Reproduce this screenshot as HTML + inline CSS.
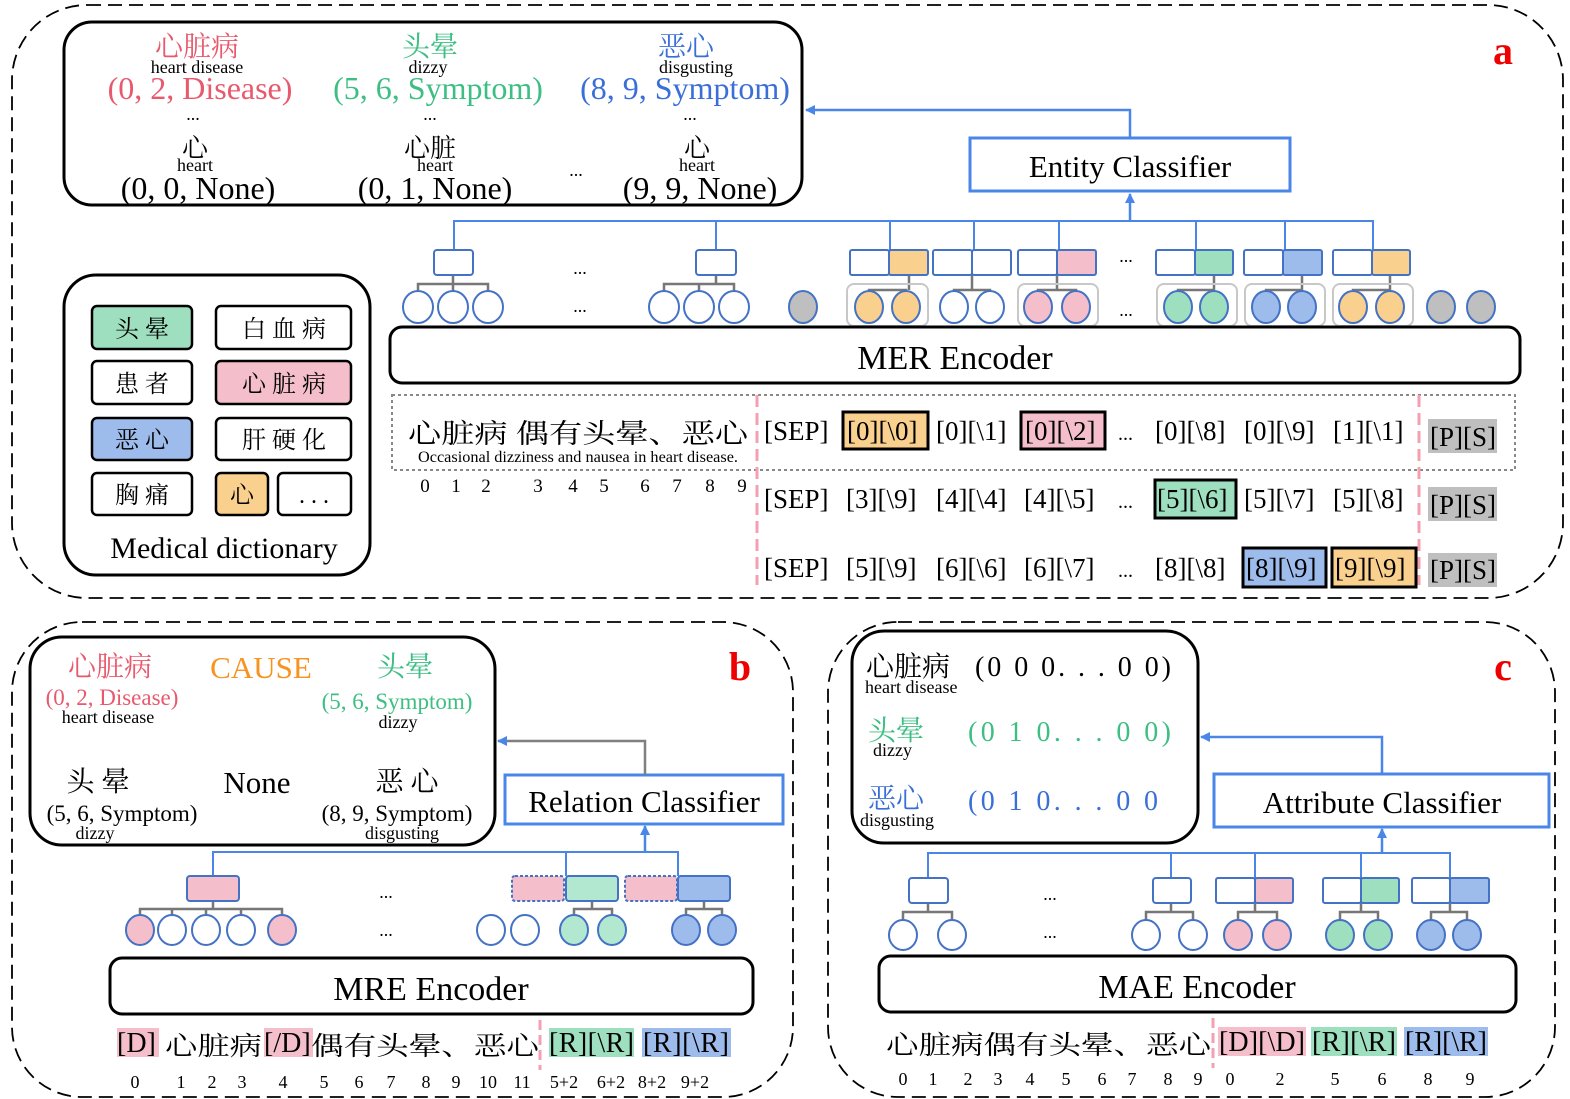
<!DOCTYPE html>
<html><head><meta charset="utf-8"><style>
html,body{margin:0;padding:0;background:#fff}
svg{display:block}
text{font-family:"Liberation Serif","Noto Serif CJK SC",serif}
</style></head><body>
<svg width="1570" height="1099" viewBox="0 0 1570 1099" xmlns="http://www.w3.org/2000/svg">
<defs>
<marker id="ab" markerWidth="10" markerHeight="10" refX="9" refY="5" orient="auto" markerUnits="userSpaceOnUse"><path d="M0,0 L10,5 L0,10 z" fill="#4a86e8"/></marker>
<marker id="ag" markerWidth="10" markerHeight="10" refX="9" refY="5" orient="auto" markerUnits="userSpaceOnUse"><path d="M0,0 L10,5 L0,10 z" fill="#4a86e8"/></marker>
</defs>
<g fill="none" stroke="#000" stroke-width="1.8" stroke-dasharray="14,7">
<rect x="12" y="5" width="1551" height="593" rx="75"/>
<rect x="12" y="622" width="781" height="475" rx="70"/>
<rect x="828" y="622" width="727" height="475" rx="70"/>
</g>
<!-- ===== A ===== -->
<rect x="64" y="22" width="738" height="183" rx="28" fill="none" stroke="#000" stroke-width="3"/>
<g text-anchor="middle">
<text x="197" y="56" font-size="28" fill="#e8596e">心脏病</text>
<text x="197" y="73" font-size="18">heart disease</text>
<text x="200" y="99" font-size="32" fill="#e8596e">(0, 2, Disease)</text>
<text x="430" y="56" font-size="28" fill="#3dbe83">头晕</text>
<text x="428" y="73" font-size="18">dizzy</text>
<text x="438" y="99" font-size="32" fill="#3dbe83">(5, 6, Symptom)</text>
<text x="686" y="56" font-size="28" fill="#3a6fd8">恶心</text>
<text x="696" y="73" font-size="18">disgusting</text>
<text x="685" y="99" font-size="32" fill="#3a6fd8">(8, 9, Symptom)</text>
<text x="193" y="120" font-size="18">...</text>
<text x="430" y="120" font-size="18">...</text>
<text x="690" y="120" font-size="18">...</text>
<text x="195" y="157" font-size="26">心</text>
<text x="195" y="171" font-size="18">heart</text>
<text x="198" y="199" font-size="32">(0, 0, None)</text>
<text x="430" y="157" font-size="26">心脏</text>
<text x="435" y="171" font-size="18">heart</text>
<text x="435" y="199" font-size="32">(0, 1, None)</text>
<text x="576" y="176" font-size="18">...</text>
<text x="697" y="157" font-size="26">心</text>
<text x="697" y="171" font-size="18">heart</text>
<text x="700" y="199" font-size="32">(9, 9, None)</text>
</g>
<text x="1503" y="64" font-size="40" font-weight="bold" fill="#e00" text-anchor="middle">a</text>
<rect x="970" y="138" width="320" height="53" fill="#fff" stroke="#4a86e8" stroke-width="3"/>
<text x="1130" y="177" font-size="31" text-anchor="middle">Entity Classifier</text>
<path d="M1130,138 V110 H806" fill="none" stroke="#4a86e8" stroke-width="2.5" marker-end="url(#ab)"/>
<path d="M1130,221 V194" fill="none" stroke="#4a86e8" stroke-width="2.5" marker-end="url(#ab)"/>
<path d="M454,250 V221 H1373 V250 M716,221 V250 M890,221 V250 M974,221 V250 M1059,221 V250 M1196,221 V250 M1285,221 V250" fill="none" stroke="#4a86e8" stroke-width="2"/>
<g fill="none" stroke="#777" stroke-width="2.5">
<path d="M453,275 V284 M418,292 V284 H488 V292 M453,284 V292"/>
<path d="M716,275 V284 M664,292 V284 H734 V292 M699,284 V292"/>
<path d="M909,275 V290 M869,293 V290 H906 V293"/>
<path d="M972,275 V290 M954,293 V290 H990 V293"/>
<path d="M1057,275 V290 M1038,293 V290 H1076 V293"/>
<path d="M1214,275 V290 M1178,293 V290 H1214 V293"/>
<path d="M1302,275 V290 M1266,293 V290 H1302 V293"/>
<path d="M1390,275 V290 M1353,293 V290 H1390 V293"/>
</g>
<g stroke="#c8c8c8" stroke-width="2" fill="none">
<rect x="847" y="284" width="81" height="42" rx="7"/>
<rect x="1018" y="284" width="80" height="42" rx="7"/>
<rect x="1157" y="284" width="80" height="42" rx="7"/>
<rect x="1245" y="284" width="80" height="42" rx="7"/>
<rect x="1333" y="284" width="80" height="42" rx="7"/>
</g>
<g stroke="#4472c4" stroke-width="2">
<rect x="434" y="250" width="39" height="25" rx="3" fill="#fff"/>
<rect x="696" y="250" width="40" height="25" rx="3" fill="#fff"/>
<rect x="850" y="250" width="39" height="25" rx="2" fill="#fff"/><rect x="889" y="250" width="39" height="25" rx="2" fill="#fad08f"/>
<rect x="933" y="250" width="39" height="25" rx="2" fill="#fff"/><rect x="972" y="250" width="39" height="25" rx="2" fill="#fff"/>
<rect x="1018" y="250" width="39" height="25" rx="2" fill="#fff"/><rect x="1057" y="250" width="39" height="25" rx="2" fill="#f4bfcb"/>
<rect x="1156" y="250" width="39" height="25" rx="2" fill="#fff"/><rect x="1195" y="250" width="38" height="25" rx="2" fill="#9edfc0"/>
<rect x="1244" y="250" width="39" height="25" rx="2" fill="#fff"/><rect x="1283" y="250" width="39" height="25" rx="2" fill="#9dbcec"/>
<rect x="1333" y="250" width="39" height="25" rx="2" fill="#fff"/><rect x="1372" y="250" width="38" height="25" rx="2" fill="#fad08f"/>
<ellipse cx="418" cy="307" rx="15" ry="16" fill="#fff"/><ellipse cx="453" cy="307" rx="15" ry="16" fill="#fff"/><ellipse cx="488" cy="307" rx="15" ry="16" fill="#fff"/>
<ellipse cx="664" cy="307" rx="15" ry="16" fill="#fff"/><ellipse cx="699" cy="307" rx="15" ry="16" fill="#fff"/><ellipse cx="734" cy="307" rx="15" ry="16" fill="#fff"/>
<ellipse cx="803" cy="307" rx="14" ry="16" fill="#bfbfbf"/>
<ellipse cx="869" cy="307" rx="14" ry="16" fill="#fad08f"/><ellipse cx="906" cy="307" rx="14" ry="16" fill="#fad08f"/>
<ellipse cx="954" cy="307" rx="14" ry="16" fill="#fff"/><ellipse cx="990" cy="307" rx="14" ry="16" fill="#fff"/>
<ellipse cx="1038" cy="307" rx="14" ry="16" fill="#f4bfcb"/><ellipse cx="1076" cy="307" rx="14" ry="16" fill="#f4bfcb"/>
<ellipse cx="1178" cy="307" rx="14" ry="16" fill="#9edfc0"/><ellipse cx="1214" cy="307" rx="14" ry="16" fill="#9edfc0"/>
<ellipse cx="1266" cy="307" rx="14" ry="16" fill="#9dbcec"/><ellipse cx="1302" cy="307" rx="14" ry="16" fill="#9dbcec"/>
<ellipse cx="1353" cy="307" rx="14" ry="16" fill="#fad08f"/><ellipse cx="1390" cy="307" rx="14" ry="16" fill="#fad08f"/>
<ellipse cx="1441" cy="307" rx="14" ry="16" fill="#bfbfbf"/><ellipse cx="1481" cy="307" rx="14" ry="16" fill="#bfbfbf"/>
</g>
<g font-size="18" text-anchor="middle"><text x="580" y="274">...</text><text x="580" y="312">...</text><text x="1126" y="262">...</text><text x="1126" y="316">...</text></g>
<rect x="390" y="327" width="1130" height="56" rx="12" fill="#fff" stroke="#000" stroke-width="3"/>
<text x="955" y="369" font-size="34" text-anchor="middle">MER Encoder</text>
<rect x="392" y="395" width="1123" height="75" fill="none" stroke="#888" stroke-width="2" stroke-dasharray="3,3"/>
<text x="408" y="443" font-size="27" textLength="340" lengthAdjust="spacingAndGlyphs">心脏病 偶有头晕、恶心</text>
<text x="418" y="462" font-size="15.5" textLength="320" lengthAdjust="spacingAndGlyphs">Occasional dizziness and nausea in heart disease.</text>
<g font-size="19" text-anchor="middle"><text x="425" y="492">0</text><text x="456" y="492">1</text><text x="486" y="492">2</text><text x="538" y="492">3</text><text x="573" y="492">4</text><text x="604" y="492">5</text><text x="645" y="492">6</text><text x="677" y="492">7</text><text x="710" y="492">8</text><text x="742" y="492">9</text></g>
<path d="M757,395 V585 M1419,395 V585" stroke="#f4a0b0" stroke-width="3" stroke-dasharray="12,6"/>
<rect x="843" y="412" width="85" height="37" fill="#fad08f" stroke="#000" stroke-width="3"/>
<rect x="1021" y="412" width="84" height="37" fill="#f4bfcb" stroke="#000" stroke-width="3"/>
<rect x="1155" y="480" width="81" height="38" fill="#9edfc0" stroke="#000" stroke-width="3"/>
<rect x="1243" y="548" width="83" height="39" fill="#9dbcec" stroke="#000" stroke-width="3"/>
<rect x="1332" y="548" width="84" height="39" fill="#fad08f" stroke="#000" stroke-width="3"/>
<rect x="1428" y="419" width="69" height="34" fill="#bfbfbf"/>
<rect x="1428" y="487" width="69" height="34" fill="#bfbfbf"/>
<rect x="1428" y="553" width="69" height="34" fill="#bfbfbf"/>
<g font-size="27">
<text x="764" y="440">[SEP]</text><text x="847" y="440">[0][\0]</text><text x="936" y="440">[0][\1]</text><text x="1025" y="440">[0][\2]</text><text x="1118" y="440" font-size="20">...</text><text x="1155" y="440">[0][\8]</text><text x="1244" y="440">[0][\9]</text><text x="1333" y="440">[1][\1]</text><text x="1430" y="446">[P][S]</text>
<text x="764" y="508">[SEP]</text><text x="846" y="508">[3][\9]</text><text x="936" y="508">[4][\4]</text><text x="1024" y="508">[4][\5]</text><text x="1118" y="508" font-size="20">...</text><text x="1157" y="508">[5][\6]</text><text x="1244" y="508">[5][\7]</text><text x="1333" y="508">[5][\8]</text><text x="1430" y="514">[P][S]</text>
<text x="764" y="577">[SEP]</text><text x="846" y="577">[5][\9]</text><text x="936" y="577">[6][\6]</text><text x="1024" y="577">[6][\7]</text><text x="1118" y="577" font-size="20">...</text><text x="1155" y="577">[8][\8]</text><text x="1246" y="577">[8][\9]</text><text x="1335" y="577">[9][\9]</text><text x="1430" y="579">[P][S]</text>
</g>
<rect x="64" y="275" width="306" height="300" rx="32" fill="none" stroke="#000" stroke-width="3"/>
<g stroke="#000" stroke-width="2.5">
<rect x="92" y="306" width="100" height="43" rx="5" fill="#9edfc0"/><rect x="216" y="306" width="135" height="43" rx="5" fill="#fff"/>
<rect x="92" y="361" width="100" height="43" rx="5" fill="#fff"/><rect x="216" y="361" width="135" height="43" rx="5" fill="#f4bfcb"/>
<rect x="92" y="418" width="100" height="42" rx="5" fill="#9dbcec"/><rect x="216" y="418" width="135" height="42" rx="5" fill="#fff"/>
<rect x="92" y="473" width="100" height="42" rx="5" fill="#fff"/><rect x="216" y="473" width="52" height="42" rx="5" fill="#fad08f"/><rect x="278" y="473" width="73" height="42" rx="5" fill="#fff"/>
</g>
<g font-size="24" text-anchor="middle">
<text x="142" y="337">头 晕</text><text x="284" y="337">白 血 病</text>
<text x="142" y="392">患 者</text><text x="284" y="392">心 脏 病</text>
<text x="142" y="448">恶 心</text><text x="284" y="448">肝 硬 化</text>
<text x="142" y="503">胸 痛</text><text x="242" y="503">心</text><text x="314" y="503">. . .</text>
</g>
<text x="224" y="558" font-size="30" text-anchor="middle">Medical dictionary</text>
<!-- ===== B ===== -->
<rect x="30" y="637" width="465" height="208" rx="32" fill="none" stroke="#000" stroke-width="3"/>
<g text-anchor="middle">
<text x="110" y="676" font-size="28" fill="#e8596e">心脏病</text>
<text x="112" y="705" font-size="23" fill="#e8596e">(0, 2, Disease)</text>
<text x="108" y="723" font-size="18">heart disease</text>
<text x="261" y="678" font-size="31" fill="#f7931e">CAUSE</text>
<text x="405" y="676" font-size="28" fill="#3dbe83">头晕</text>
<text x="397" y="709" font-size="23" fill="#3dbe83">(5, 6, Symptom)</text>
<text x="398" y="728" font-size="18">dizzy</text>
<text x="98" y="791" font-size="28">头 晕</text>
<text x="122" y="821" font-size="23">(5, 6, Symptom)</text>
<text x="95" y="839" font-size="18">dizzy</text>
<text x="257" y="793" font-size="31">None</text>
<text x="407" y="791" font-size="28">恶 心</text>
<text x="397" y="821" font-size="23">(8, 9, Symptom)</text>
<text x="402" y="839" font-size="18">disgusting</text>
</g>
<text x="740" y="680" font-size="40" font-weight="bold" fill="#e00" text-anchor="middle">b</text>
<rect x="505" y="775" width="278" height="49" fill="#fff" stroke="#4a86e8" stroke-width="3"/>
<text x="644" y="812" font-size="31" text-anchor="middle">Relation Classifier</text>
<path d="M645,775 V741 H498" fill="none" stroke="#7f7f7f" stroke-width="2.5" marker-end="url(#ag)"/>
<path d="M213,876 V852 H678 V876 M566,852 V876" fill="none" stroke="#4a86e8" stroke-width="2"/>
<path d="M645,852 V826" fill="none" stroke="#4a86e8" stroke-width="2.5" marker-end="url(#ab)"/>
<g fill="none" stroke="#777" stroke-width="2.5">
<path d="M213,901 V909 M140,916 V909 H282 V916 M172,909 V916 M206,909 V916 M241,909 V916"/>
<path d="M592,901 V909 M574,916 V909 H612 V916"/>
<path d="M704,901 V909 M686,916 V909 H722 V916"/>
</g>
<g stroke="#4472c4" stroke-width="2">
<rect x="187" y="876" width="52" height="25" rx="3" fill="#f4bfcb"/>
<rect x="512" y="876" width="52" height="25" rx="3" fill="#f4bfcb" stroke-dasharray="3,2"/>
<rect x="566" y="876" width="52" height="25" rx="3" fill="#b3e8d0"/>
<rect x="625" y="876" width="52" height="25" rx="3" fill="#f4bfcb" stroke-dasharray="3,2"/>
<rect x="678" y="876" width="52" height="25" rx="3" fill="#9dbcec"/>
<ellipse cx="140" cy="930" rx="14" ry="15" fill="#f4bfcb"/><ellipse cx="172" cy="930" rx="14" ry="15" fill="#fff"/><ellipse cx="206" cy="930" rx="14" ry="15" fill="#fff"/><ellipse cx="241" cy="930" rx="14" ry="15" fill="#fff"/><ellipse cx="282" cy="930" rx="14" ry="15" fill="#f4bfcb"/>
<ellipse cx="491" cy="930" rx="14" ry="15" fill="#fff"/><ellipse cx="525" cy="930" rx="14" ry="15" fill="#fff"/>
<ellipse cx="574" cy="930" rx="14" ry="15" fill="#b3e8d0"/><ellipse cx="612" cy="930" rx="14" ry="15" fill="#b3e8d0"/>
<ellipse cx="686" cy="930" rx="14" ry="15" fill="#9dbcec"/><ellipse cx="722" cy="930" rx="14" ry="15" fill="#9dbcec"/>
</g>
<g font-size="18" text-anchor="middle"><text x="386" y="898">...</text><text x="386" y="936">...</text></g>
<rect x="110" y="958" width="643" height="56" rx="12" fill="#fff" stroke="#000" stroke-width="3"/>
<text x="431" y="1000" font-size="34" text-anchor="middle">MRE Encoder</text>
<rect x="117" y="1028" width="42" height="29" fill="#f4bfcb"/>
<rect x="264" y="1028" width="49" height="29" fill="#f4bfcb"/>
<rect x="549" y="1028" width="85" height="29" fill="#9edfc0"/>
<rect x="642" y="1028" width="89" height="29" fill="#9dbcec"/>
<path d="M540,1020 V1070" stroke="#f4a0b0" stroke-width="3" stroke-dasharray="10,5"/>
<g font-size="28">
<text x="117" y="1052">[D]</text><text x="165" y="1055" font-size="26" textLength="97" lengthAdjust="spacingAndGlyphs">心脏病</text><text x="264" y="1052">[/D]</text><text x="311" y="1055" font-size="26" textLength="228" lengthAdjust="spacingAndGlyphs">偶有头晕、恶心</text>
<text x="549" y="1052" textLength="85">[R][\R]</text><text x="643" y="1052" textLength="86">[R][\R]</text>
</g>
<g font-size="18" text-anchor="middle"><text x="135" y="1088">0</text><text x="181" y="1088">1</text><text x="212" y="1088">2</text><text x="242" y="1088">3</text><text x="283" y="1088">4</text><text x="324" y="1088">5</text><text x="359" y="1088">6</text><text x="391" y="1088">7</text><text x="426" y="1088">8</text><text x="456" y="1088">9</text><text x="488" y="1088">10</text><text x="522" y="1088">11</text><text x="564" y="1088">5+2</text><text x="611" y="1088">6+2</text><text x="652" y="1088">8+2</text><text x="695" y="1088">9+2</text></g>
<!-- ===== C ===== -->
<rect x="852" y="631" width="346" height="212" rx="32" fill="none" stroke="#000" stroke-width="3"/>
<text x="866" y="676" font-size="28">心脏病</text>
<text x="975" y="676" font-size="28" textLength="196" lengthAdjust="spacing">(0  0  0. . . 0  0)</text>
<text x="865" y="693" font-size="18">heart disease</text>
<text x="868" y="740" font-size="28" fill="#3dbe83">头晕</text>
<text x="968" y="741" font-size="28" fill="#3dbe83" textLength="203" lengthAdjust="spacing">(0  1  0. . . 0  0)</text>
<text x="873" y="756" font-size="18">dizzy</text>
<text x="868" y="808" font-size="28" fill="#3a6fd8">恶心</text>
<text x="968" y="810" font-size="28" fill="#3a6fd8" textLength="190" lengthAdjust="spacing">(0  1  0. . . 0  0</text>
<text x="860" y="826" font-size="18">disgusting</text>
<text x="1503" y="680" font-size="40" font-weight="bold" fill="#e00" text-anchor="middle">c</text>
<rect x="1214" y="774" width="335" height="53" fill="#fff" stroke="#4a86e8" stroke-width="3"/>
<text x="1382" y="813" font-size="31" text-anchor="middle">Attribute Classifier</text>
<path d="M1382,774 V737 H1201" fill="none" stroke="#4a86e8" stroke-width="2.5" marker-end="url(#ab)"/>
<path d="M928,878 V853 H1450 V878 M1171,853 V878 M1255,853 V878 M1361,853 V878" fill="none" stroke="#4a86e8" stroke-width="2"/>
<path d="M1382,853 V829" fill="none" stroke="#4a86e8" stroke-width="2.5" marker-end="url(#ab)"/>
<g fill="none" stroke="#777" stroke-width="2.5">
<path d="M928,903 V912 M903,920 V912 H952 V920"/>
<path d="M1171,903 V912 M1146,920 V912 H1193 V920"/>
<path d="M1255,903 V912 M1238,920 V912 H1277 V920"/>
<path d="M1361,903 V912 M1340,920 V912 H1378 V920"/>
<path d="M1450,903 V912 M1431,920 V912 H1467 V920"/>
</g>
<g stroke="#4472c4" stroke-width="2">
<rect x="909" y="878" width="39" height="25" rx="3" fill="#fff"/>
<rect x="1153" y="878" width="38" height="25" rx="3" fill="#fff"/>
<rect x="1216" y="878" width="39" height="25" rx="2" fill="#fff"/><rect x="1255" y="878" width="38" height="25" rx="2" fill="#f4bfcb"/>
<rect x="1323" y="878" width="38" height="25" rx="2" fill="#fff"/><rect x="1361" y="878" width="38" height="25" rx="2" fill="#9edfc0"/>
<rect x="1412" y="878" width="38" height="25" rx="2" fill="#fff"/><rect x="1450" y="878" width="39" height="25" rx="2" fill="#9dbcec"/>
<ellipse cx="903" cy="935" rx="14" ry="15" fill="#fff"/><ellipse cx="952" cy="935" rx="14" ry="15" fill="#fff"/>
<ellipse cx="1146" cy="935" rx="14" ry="15" fill="#fff"/><ellipse cx="1193" cy="935" rx="14" ry="15" fill="#fff"/>
<ellipse cx="1238" cy="935" rx="14" ry="15" fill="#f4bfcb"/><ellipse cx="1277" cy="935" rx="14" ry="15" fill="#f4bfcb"/>
<ellipse cx="1340" cy="935" rx="14" ry="15" fill="#9edfc0"/><ellipse cx="1378" cy="935" rx="14" ry="15" fill="#9edfc0"/>
<ellipse cx="1431" cy="935" rx="14" ry="15" fill="#9dbcec"/><ellipse cx="1467" cy="935" rx="14" ry="15" fill="#9dbcec"/>
</g>
<g font-size="18" text-anchor="middle"><text x="1050" y="900">...</text><text x="1050" y="938">...</text></g>
<rect x="879" y="956" width="637" height="56" rx="12" fill="#fff" stroke="#000" stroke-width="3"/>
<text x="1197" y="998" font-size="34" text-anchor="middle">MAE Encoder</text>
<rect x="1218" y="1027" width="88" height="29" fill="#f4bfcb"/>
<rect x="1311" y="1027" width="86" height="29" fill="#9edfc0"/>
<rect x="1404" y="1027" width="84" height="29" fill="#9dbcec"/>
<path d="M1213,1018 V1068" stroke="#f4a0b0" stroke-width="3" stroke-dasharray="10,5"/>
<text x="886" y="1054" font-size="26" textLength="325" lengthAdjust="spacingAndGlyphs">心脏病偶有头晕、恶心</text>
<g font-size="28"><text x="1219" y="1051" textLength="86">[D][\D]</text><text x="1312" y="1051" textLength="84">[R][\R]</text><text x="1405" y="1051" textLength="82">[R][\R]</text></g>
<g font-size="18" text-anchor="middle"><text x="903" y="1085">0</text><text x="933" y="1085">1</text><text x="968" y="1085">2</text><text x="998" y="1085">3</text><text x="1030" y="1085">4</text><text x="1066" y="1085">5</text><text x="1102" y="1085">6</text><text x="1132" y="1085">7</text><text x="1168" y="1085">8</text><text x="1198" y="1085">9</text><text x="1230" y="1085">0</text><text x="1280" y="1085">2</text><text x="1335" y="1085">5</text><text x="1382" y="1085">6</text><text x="1428" y="1085">8</text><text x="1470" y="1085">9</text></g>
</svg>
</body></html>
